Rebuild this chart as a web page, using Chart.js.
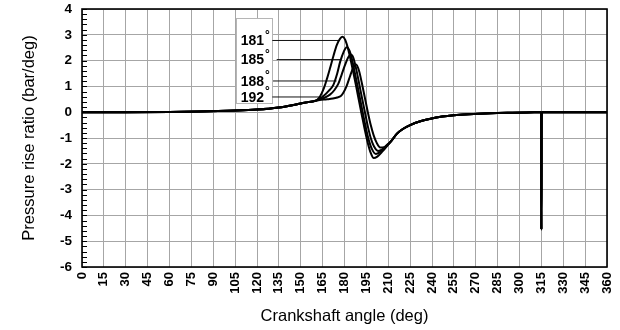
<!DOCTYPE html>
<html>
<head>
<meta charset="UTF-8">
<title>Pressure rise ratio</title>
<script src="https://cdn.jsdelivr.net/npm/chart.js"></script>
<style>
  body { margin: 0; background: #fff; }
  #wrap { width: 620px; height: 330px; }
</style>
</head>
<body>
<div id="wrap"><canvas id="prChart" width="620" height="330"></canvas></div>
<script>
// part shared by all four curves before they split
const baseAngles = [0, 30, 60, 80, 100, 120, 135, 145, 150, 155, 160];
const baseValues = [0, 0, 0.01, 0.03, 0.06, 0.1, 0.18, 0.28, 0.34, 0.39, 0.44];

// combustion region, one set per ignition timing
const angles181 = [163, 166, 168, 170, 172.5, 174.7, 177, 178.8, 180.5, 182.7, 184.5, 186, 188, 190, 192, 194, 196, 198, 200, 202.5, 206, 209];
const values181 = [0.59, 0.95, 1.3, 1.69, 2.2, 2.6, 2.85, 2.92, 2.8, 2.4, 1.95, 1.56, 1.0, 0.42, -0.15, -0.7, -1.2, -1.58, -1.78, -1.72, -1.52, -1.32];

const angles185 = [163, 166, 169, 172.3, 175, 177, 179.5, 181.5, 183.5, 185, 187, 189, 191, 193, 195, 197, 199, 201.5, 204, 207];
const values185 = [0.53, 0.65, 0.82, 1.05, 1.5, 1.95, 2.35, 2.52, 2.38, 2.08, 1.55, 1.0, 0.42, -0.15, -0.7, -1.15, -1.45, -1.62, -1.56, -1.4];

const angles188 = [163, 167, 170, 173, 175.8, 178, 180.5, 182.5, 184.3, 186, 188, 190, 192, 194, 196, 198, 200, 203, 206, 209];
const values188 = [0.5, 0.58, 0.68, 0.85, 1.11, 1.45, 1.85, 2.12, 2.24, 2.12, 1.68, 1.12, 0.55, 0.0, -0.55, -1.0, -1.3, -1.5, -1.44, -1.3];

const angles192 = [163, 168, 172, 175, 177.5, 179.2, 181.5, 184, 186, 188, 190, 192, 194, 196, 198, 200, 202, 204.5, 207, 210];
const values192 = [0.47, 0.5, 0.53, 0.57, 0.63, 0.75, 1.02, 1.43, 1.72, 1.85, 1.6, 1.1, 0.55, 0.0, -0.5, -0.9, -1.18, -1.37, -1.36, -1.22];

// shared tail after the curves merge again (spike near 315 deg)
const tailAngles = [212, 216, 220, 225, 232, 239, 247, 255, 265, 280, 295, 310, 314.8, 315, 315.2, 330, 345, 360];
const tailValues = [-1.12, -0.83, -0.65, -0.5, -0.35, -0.25, -0.17, -0.12, -0.08, -0.04, -0.02, -0.005, 0, -4.55, 0, 0, 0, 0];

// labels and their leader lines (value where the line sits, from/to angle)
const timings = ['181', '185', '188', '192'];
const leaderValues = [2.78, 2.04, 1.21, 0.59];
const leaderFrom = [130.5, 133.5, 131, 130.5];
const leaderTo = [175.6, 177.5, 174.6, 163];

const curveAngles = [angles181, angles185, angles188, angles192];
const curveValues = [values181, values185, values188, values192];

const FONT = 'Arial, "Liberation Sans", sans-serif';

function toPoints(xs, ys) {
  return xs.map((x, i) => ({ x: x, y: ys[i] }));
}

const datasets = [];
timings.forEach((t, i) => {
  datasets.push({
    label: 'leader ' + t,
    data: [{ x: leaderFrom[i], y: leaderValues[i] }, { x: leaderTo[i], y: leaderValues[i] }],
    borderColor: '#111',
    borderWidth: 1,
    pointRadius: 0,
    showLine: true,
    order: 2
  });
});
timings.forEach((t, i) => {
  datasets.push({
    label: t,
    data: toPoints(baseAngles.concat(curveAngles[i], tailAngles), baseValues.concat(curveValues[i], tailValues)),
    borderColor: '#000',
    borderWidth: 2,
    pointRadius: 0,
    showLine: true,
    cubicInterpolationMode: 'monotone',
    order: 1
  });
});

// label box, frame and minor ticks
const decor = {
  id: 'decor',
  beforeDatasetsDraw(chart) {
    const { ctx, scales: { x, y } } = chart;
    const l = x.getPixelForValue(105.6), r = x.getPixelForValue(130.3);
    const t = y.getPixelForValue(3.64), b = y.getPixelForValue(0.35);
    ctx.save();
    ctx.fillStyle = '#fff';
    ctx.fillRect(l, t, r - l, b - t);
    ctx.strokeStyle = '#b5b5b5';
    ctx.lineWidth = 1;
    ctx.strokeRect(Math.round(l) + 0.5, Math.round(t) + 0.5, Math.round(r - l), Math.round(b - t));
    ctx.fillStyle = '#000';
    ctx.textBaseline = 'middle';
    timings.forEach((lab, i) => {
      const yy = y.getPixelForValue(leaderValues[i]);
      ctx.font = 'bold 14px ' + FONT;
      ctx.textAlign = 'right';
      ctx.fillText(lab, r - 8, yy + 1);
      ctx.font = 'bold 12px ' + FONT;
      ctx.textAlign = 'left';
      ctx.fillText('°', r - 7, yy - 5);
    });
    ctx.restore();
  },
  afterDatasetsDraw(chart) {
    const { ctx, chartArea: a, scales: { y } } = chart;
    ctx.save();
    ctx.strokeStyle = '#000';
    ctx.lineWidth = 1;
    ctx.beginPath();
    for (let v = -6; v <= 4.001; v += 0.2) {
      const py = Math.round(y.getPixelForValue(v)) + 0.5;
      ctx.moveTo(a.left, py);
      ctx.lineTo(a.left + 5, py);
    }
    ctx.stroke();
    ctx.lineWidth = 1.6;
    ctx.strokeRect(a.left, a.top, a.right - a.left, a.bottom - a.top);
    ctx.restore();
  }
};

new Chart(document.getElementById('prChart'), {
  type: 'scatter',
  data: { datasets: datasets },
  options: {
    responsive: false,
    animation: false,
    devicePixelRatio: 1,
    layout: { padding: { left: 0, right: 13, top: 9, bottom: 0 } },
    plugins: { legend: { display: false }, tooltip: { enabled: false } },
    scales: {
      x: {
        type: 'linear',
        min: 0,
        max: 360,
        afterFit(scale) {
          scale.height = 63;
          scale.paddingLeft = 0;
          scale.paddingRight = 0;
        },
        grid: { color: '#a6a6a6', lineWidth: 1, drawTicks: false },
        border: { display: false },
        ticks: {
          stepSize: 15,
          autoSkip: false,
          maxRotation: 90,
          minRotation: 90,
          padding: 5,
          color: '#000',
          font: { family: FONT, size: 13, weight: 'bold' }
        },
        title: {
          display: true,
          text: 'Crankshaft angle (deg)',
          color: '#000',
          font: { family: FONT, size: 16.5 },
          padding: { top: 4, bottom: 4 }
        }
      },
      y: {
        type: 'linear',
        min: -6,
        max: 4,
        afterFit(scale) {
          scale.width = 82;
          scale.paddingTop = 0;
          scale.paddingBottom = 0;
        },
        grid: { color: '#a6a6a6', lineWidth: 1, drawTicks: false },
        border: { display: false },
        ticks: {
          stepSize: 1,
          padding: 10,
          color: '#000',
          font: { family: FONT, size: 13.5, weight: 'bold' }
        },
        title: {
          display: true,
          text: 'Pressure rise ratio (bar/deg)',
          color: '#000',
          font: { family: FONT, size: 16.5 },
          padding: { top: 20, bottom: 20 }
        }
      }
    }
  },
  plugins: [decor]
});
</script>
</body>
</html>
